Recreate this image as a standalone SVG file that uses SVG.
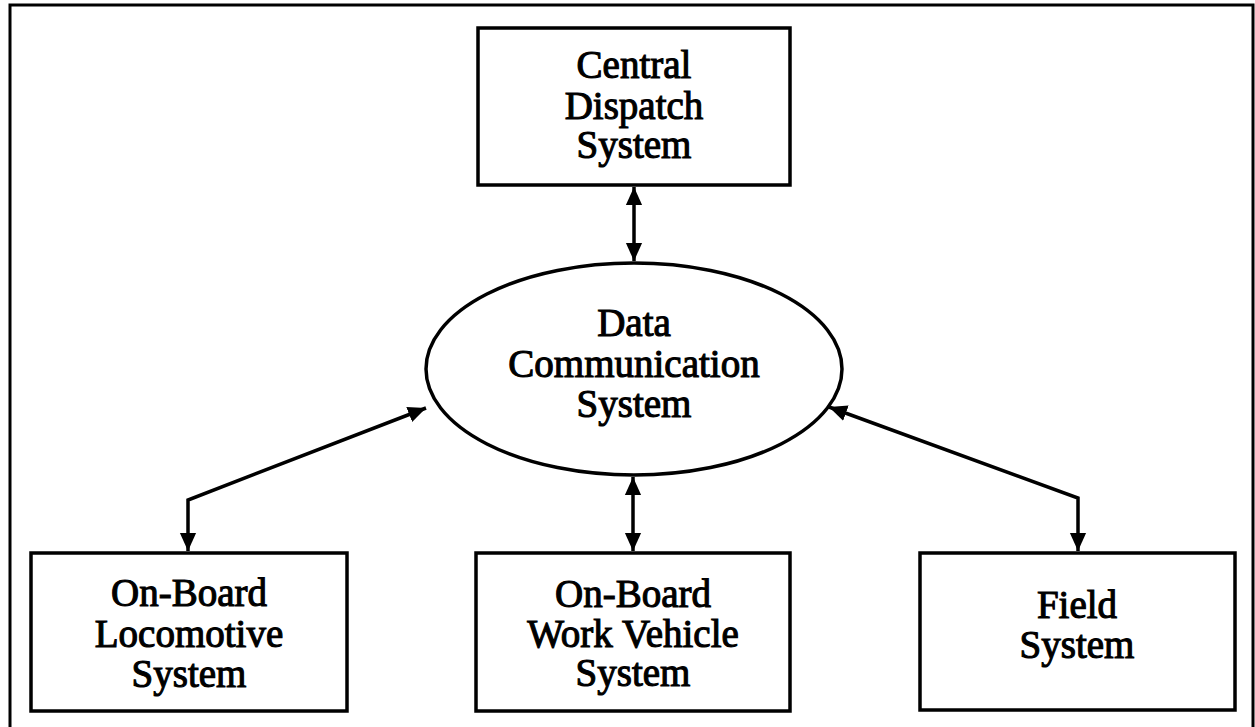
<svg xmlns="http://www.w3.org/2000/svg" width="1255" height="727" viewBox="0 0 1255 727">
<style>
.box{fill:#fff;stroke:#000;stroke-width:3.5}
.lbl{font-family:"Liberation Serif","Times New Roman",serif;font-size:39px;fill:#000;stroke:#000;stroke-width:1.1;text-anchor:middle}
.con{fill:none;stroke:#000;stroke-width:3.5;marker-start:url(#ah);marker-end:url(#ah)}
</style>
<defs>
<marker id="ah" viewBox="0 0 10 10" refX="10" refY="5" markerWidth="18" markerHeight="18" markerUnits="userSpaceOnUse" orient="auto-start-reverse">
<path d="M0,0.5 L10,5 L0,9.5 z" fill="#000"/>
</marker>
</defs>
<rect x="0" y="0" width="1255" height="727" fill="#fff"/>
<rect id="frame" x="10" y="5" width="1243" height="740" fill="none" stroke="#000" stroke-width="3"/>
<g id="connectors">
<path class="con" d="M634,187 L634,261"/>
<path class="con" d="M633,477 L633,551"/>
<path class="con" d="M426,408 L188,500 L188,551"/>
<path class="con" d="M829,407 L1078,498 L1078,551"/>
</g>
<g id="central">
<rect class="box" x="478" y="28" width="312" height="157"/>
<text class="lbl" x="634" y="78">Central</text>
<text class="lbl" x="634" y="119">Dispatch</text>
<text class="lbl" x="634" y="158">System</text>
</g>
<g id="datacomm">
<ellipse class="box" cx="634" cy="369" rx="208" ry="106"/>
<text class="lbl" x="634" y="336">Data</text>
<text class="lbl" x="634" y="377">Communication</text>
<text class="lbl" x="634" y="417">System</text>
</g>
<g id="locomotive">
<rect class="box" x="31" y="553" width="316" height="158"/>
<text class="lbl" x="189" y="606">On-Board</text>
<text class="lbl" x="189" y="647">Locomotive</text>
<text class="lbl" x="189" y="687">System</text>
</g>
<g id="workvehicle">
<rect class="box" x="476" y="553" width="314" height="158"/>
<text class="lbl" x="633" y="607">On-Board</text>
<text class="lbl" x="633" y="647">Work Vehicle</text>
<text class="lbl" x="633" y="686">System</text>
</g>
<g id="field">
<rect class="box" x="920" y="553" width="315" height="157"/>
<text class="lbl" x="1077" y="618">Field</text>
<text class="lbl" x="1077" y="658">System</text>
</g>
</svg>
